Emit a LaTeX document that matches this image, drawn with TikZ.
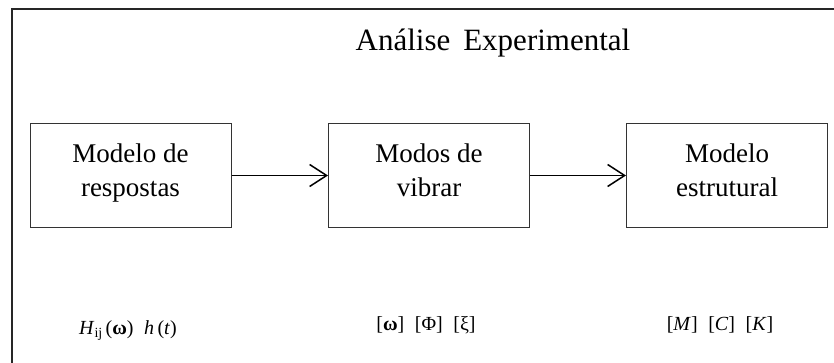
\documentclass[tikz,border=0pt]{standalone}
\usepackage{fontspec}
\setmainfont{Liberation Serif}
\usetikzlibrary{arrows.meta}

\begin{document}
\begin{tikzpicture}[x=1pt,y=-1pt,
    bloco/.style={draw=black!80,line width=1pt,minimum width=201pt,minimum height=103pt,
                  inner sep=0pt,align=center,font=\fontsize{27}{34}\selectfont},
    seta/.style={-{Straight Barb[length=17pt,width=22pt,line width=1.5pt]},line width=1.8pt},
    rotulo/.style={anchor=base,font=\fontsize{20}{24}\selectfont}]
      \useasboundingbox (0,0) rectangle (834,363);
      % moldura aberta (cortada a direita e embaixo)
      \draw[black!85,line width=2pt] (12,363) -- (12,9) -- (834,9);

      \node (titulo) at (493,51) [anchor=base,font=\fontsize{31}{36}\selectfont] {Análise\, Experimental};

      \node (resp) at (130.5,175.5) [bloco] {Modelo de\\respostas\strut};
      \node (modos) at (429,175.5) [bloco] {Modos de\\vibrar\strut};
      \node (estr) at (727,175.5) [bloco] {Modelo\\estrutural\strut};

      \draw[seta] (resp) -- (modos);
      \draw[seta] (modos) -- (estr);

      \node (frf) at (128,334) [rotulo] {\textit{H}\raisebox{-0.35ex}{\fontsize{14}{14}\selectfont ij}\,(\textbf{ω})\; \textit{h}\,(\textit{t})};
      \node (modal) at (426,330) [rotulo] {[\textbf{ω}]\; [Φ]\; [ξ]};
      \node (mck) at (720,330) [rotulo] {[\textit{M}]\; [\textit{C}]\; [\textit{K}]};
    \end{tikzpicture}
\end{document}
